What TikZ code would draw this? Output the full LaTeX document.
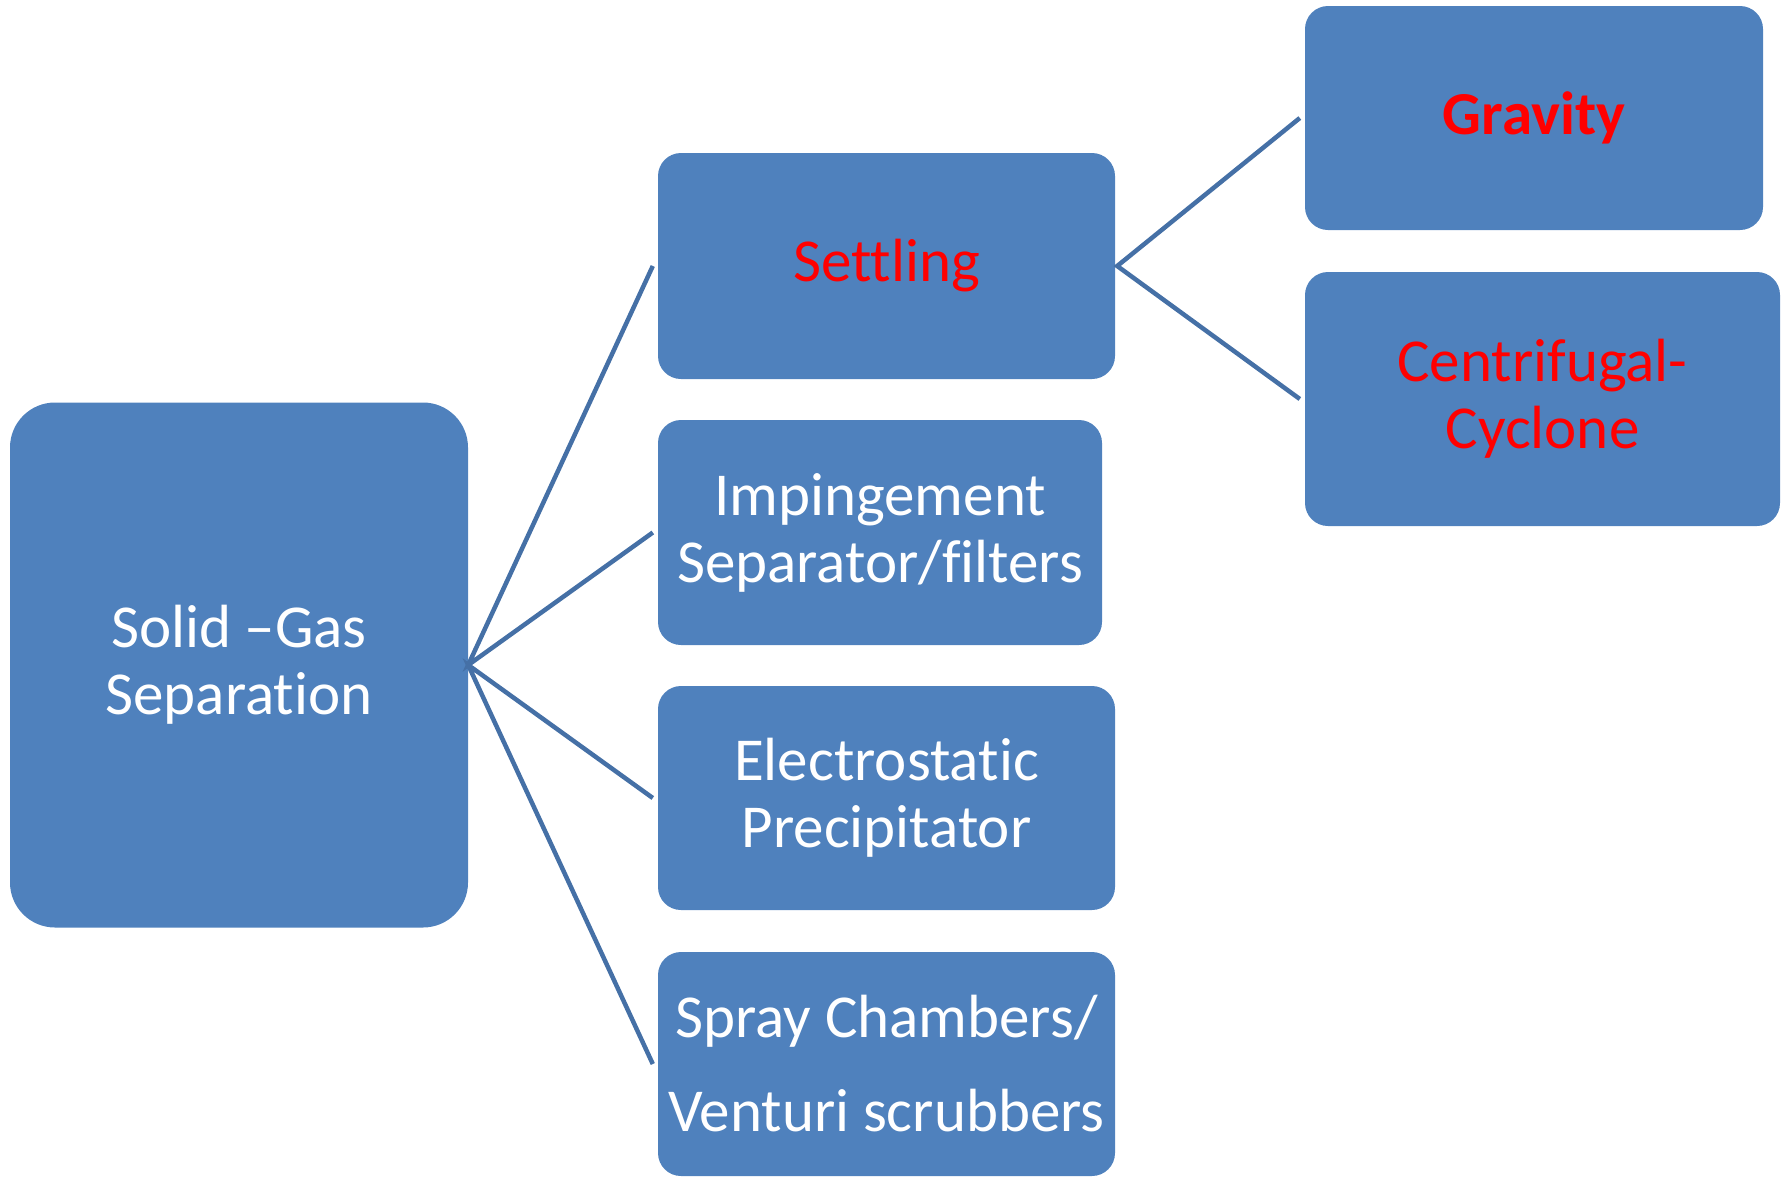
\documentclass[tikz,border=0pt]{standalone}
\usepackage{fontspec}
\setmainfont[Ligatures=NoCommon]{Carlito}
\definecolor{boxfill}{HTML}{4F81BD}
\definecolor{linec}{HTML}{4570A6}
\definecolor{redtxt}{HTML}{FF0000}
\begin{document}
\begin{tikzpicture}[x=1pt,y=-1pt,
  box/.style={fill=boxfill, draw=none, rounded corners=23pt, text=white, align=center,
    inner sep=0pt, font=\fontsize{61}{67}\selectfont},
  conn/.style={draw=linec, line width=4.5pt}]
\useasboundingbox (0,0) rectangle (1789,1176);
\node[box, rounded corners=45pt, minimum width=458pt, minimum height=525pt] (solid) at (239,665) {Solid –Gas\\Separation};
\node[box, minimum width=457pt, minimum height=226pt, text=redtxt] (settle) at (886.5,266) {Settling};
\node[box, minimum width=444pt, minimum height=225pt] (imp) at (880,532.5) {Impingement\\Separator/filters};
\node[box, minimum width=457pt, minimum height=224pt] (elec) at (886.5,798) {Electrostatic\\Precipitator};
\node[box, minimum width=457pt, minimum height=224pt, font=\fontsize{61}{94}\selectfont] (spray) at (886.5,1064) {Spray Chambers/\\Venturi scrubbers};
\node[box, minimum width=458pt, minimum height=224pt, text=redtxt, font=\fontsize{61}{67}\selectfont\bfseries] (grav) at (1534,118) {Gravity};
\node[box, minimum width=475pt, minimum height=254pt, text=redtxt] (cent) at (1542.5,399) {Centrifugal-\\Cyclone};
\draw[conn] ([xshift=-5pt]settle.west) -- (solid.east) -- ([xshift=-5pt]imp.west);
\draw[conn] ([xshift=-5pt]elec.west) -- (solid.east) -- ([xshift=-5pt]spray.west);
\draw[conn] ([xshift=-5pt]grav.west) -- ([xshift=2pt]settle.east) -- ([xshift=-5pt]cent.west);
\end{tikzpicture}
\end{document}
